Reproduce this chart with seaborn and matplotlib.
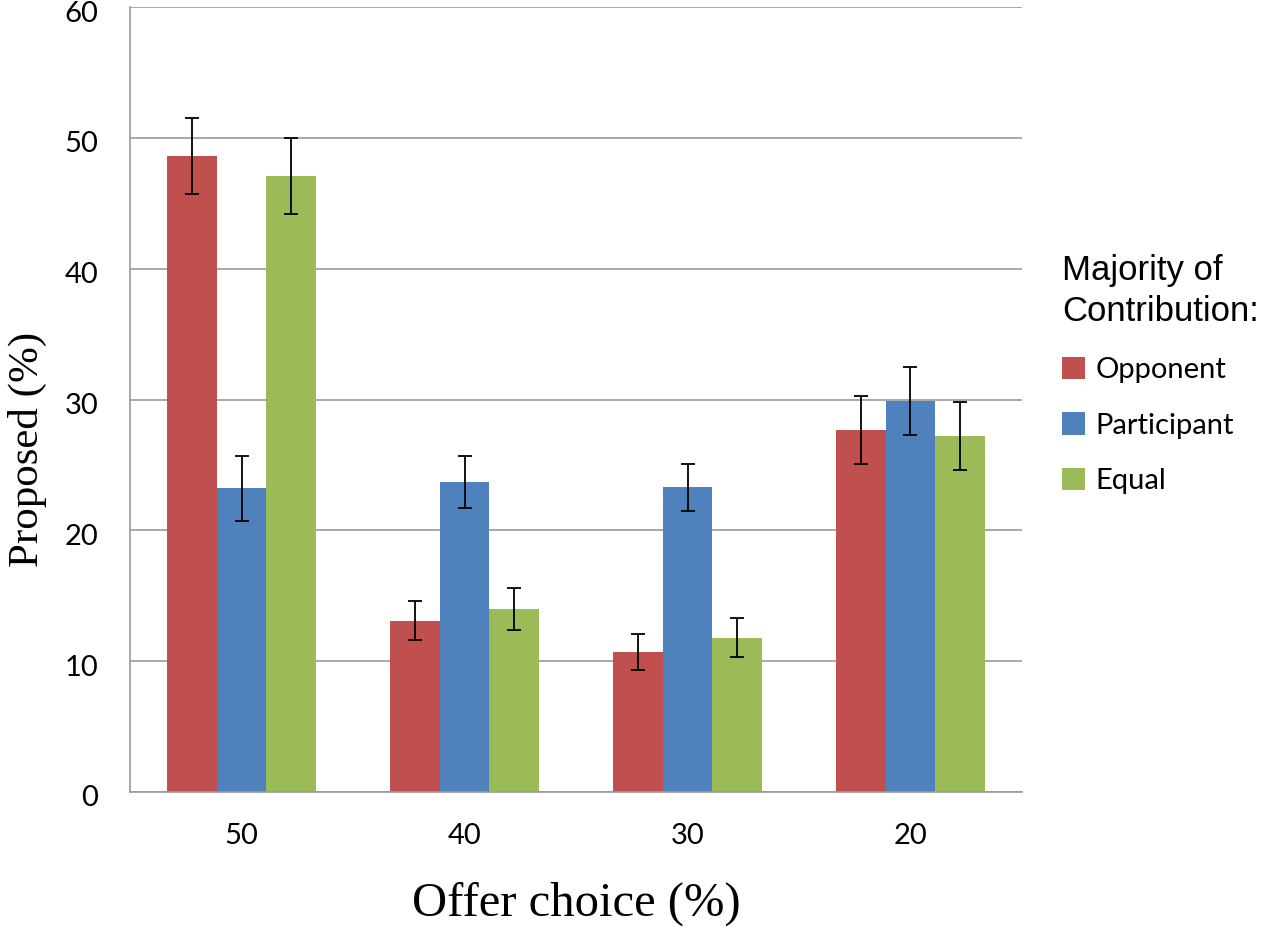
import pandas as pd
import matplotlib.pyplot as plt
import matplotlib.transforms as mtrans
import seaborn as sns

# Data
offers = ["50", "40", "30", "20"]
groups = ["Opponent", "Participant", "Equal"]
opponent = [48.6, 13.1, 10.7, 27.7]
participant = [23.2, 23.7, 23.3, 29.9]
equal = [47.1, 14.0, 11.8, 27.2]
opponent_err = [2.9, 1.5, 1.4, 2.6]
participant_err = [2.5, 2.0, 1.8, 2.6]
equal_err = [2.9, 1.6, 1.5, 2.6]

colors = ["#C0504D", "#4F81BD", "#9BBB59"]

df = pd.DataFrame({
    "offer": offers * 3,
    "group": [g for g in groups for _ in offers],
    "value": opponent + participant + equal,
})
errs = [opponent_err, participant_err, equal_err]

sns.set_style("white")
plt.rcParams["text.color"] = "black"
plt.rcParams["xtick.labelcolor"] = "black"
plt.rcParams["ytick.labelcolor"] = "black"
plt.rcParams["axes.labelcolor"] = "black"

fig = plt.figure(figsize=(12.67, 9.32), dpi=100)
ax = fig.add_axes([130 / 1267, 140 / 932, 892 / 1267, 785 / 932])

sns.barplot(data=df, x="offer", y="value", hue="group", order=offers,
            hue_order=groups, palette=colors, width=0.67, gap=0,
            errorbar=None, saturation=1, linewidth=0, ax=ax, zorder=2)

# error bars on each bar
for cont, err in zip(ax.containers, errs):
    xs = [b.get_x() + b.get_width() / 2 for b in cont]
    ys = [b.get_height() for b in cont]
    ax.errorbar(xs, ys, yerr=err, fmt="none", ecolor="black",
                elinewidth=1.3, capsize=5, capthick=1.3, zorder=3)

ax.set_ylim(0, 60)
ax.set_xlim(-0.5, 3.5)
ax.set_yticks(range(0, 61, 10))
ax.yaxis.grid(True, color="#9a9a9a", linewidth=1.2, zorder=0)
ax.set_axisbelow(True)

# category boundary ticks on x axis
ax.set_xticks([0, 1, 2, 3])
ax.set_xticks([-0.5, 0.5, 1.5, 2.5, 3.5], minor=True)
ax.tick_params(axis="x", which="major", length=0, pad=22)
ax.tick_params(axis="x", which="minor", length=9, width=1.2, color="#9a9a9a",
               direction="out")
ax.tick_params(axis="y", length=9, width=1.2, color="#9a9a9a", direction="out",
               pad=14)
ax.tick_params(labelsize=21)
for lab in ax.get_xticklabels() + ax.get_yticklabels():
    lab.set_family("Lato")
# y labels sit a little below their gridlines in the original
shift = mtrans.ScaledTranslation(0, -4 / 100, fig.dpi_scale_trans)
for lab in ax.get_yticklabels():
    lab.set_transform(lab.get_transform() + shift)

for s in ["top", "right"]:
    ax.spines[s].set_visible(False)
for s in ["left", "bottom"]:
    ax.spines[s].set_color("#9a9a9a")
    ax.spines[s].set_linewidth(1.2)

ax.set_xlabel("Offer choice (%)", family="Liberation Serif", fontsize=35,
              labelpad=24)
ax.set_ylabel("Proposed (%)", family="Liberation Serif", fontsize=31)
ax.yaxis.set_label_coords(-0.093, 0.436)

leg = ax.legend(title="Majority of\nContribution:", loc="upper left",
                bbox_to_anchor=(1062 / 1267, 1 - 254 / 932),
                bbox_transform=fig.transFigure, frameon=False, borderpad=0,
                borderaxespad=0, handlelength=0.8, handleheight=0.8,
                handletextpad=0.35, labelspacing=1.0,
                prop={"family": "Lato", "size": 21})
leg.get_title().set_family("Liberation Sans")
leg.get_title().set_fontsize(25)
leg.get_title().set_linespacing(1.3)
leg._legend_box.align = "left"

plt.savefig("out.png", dpi=100)
